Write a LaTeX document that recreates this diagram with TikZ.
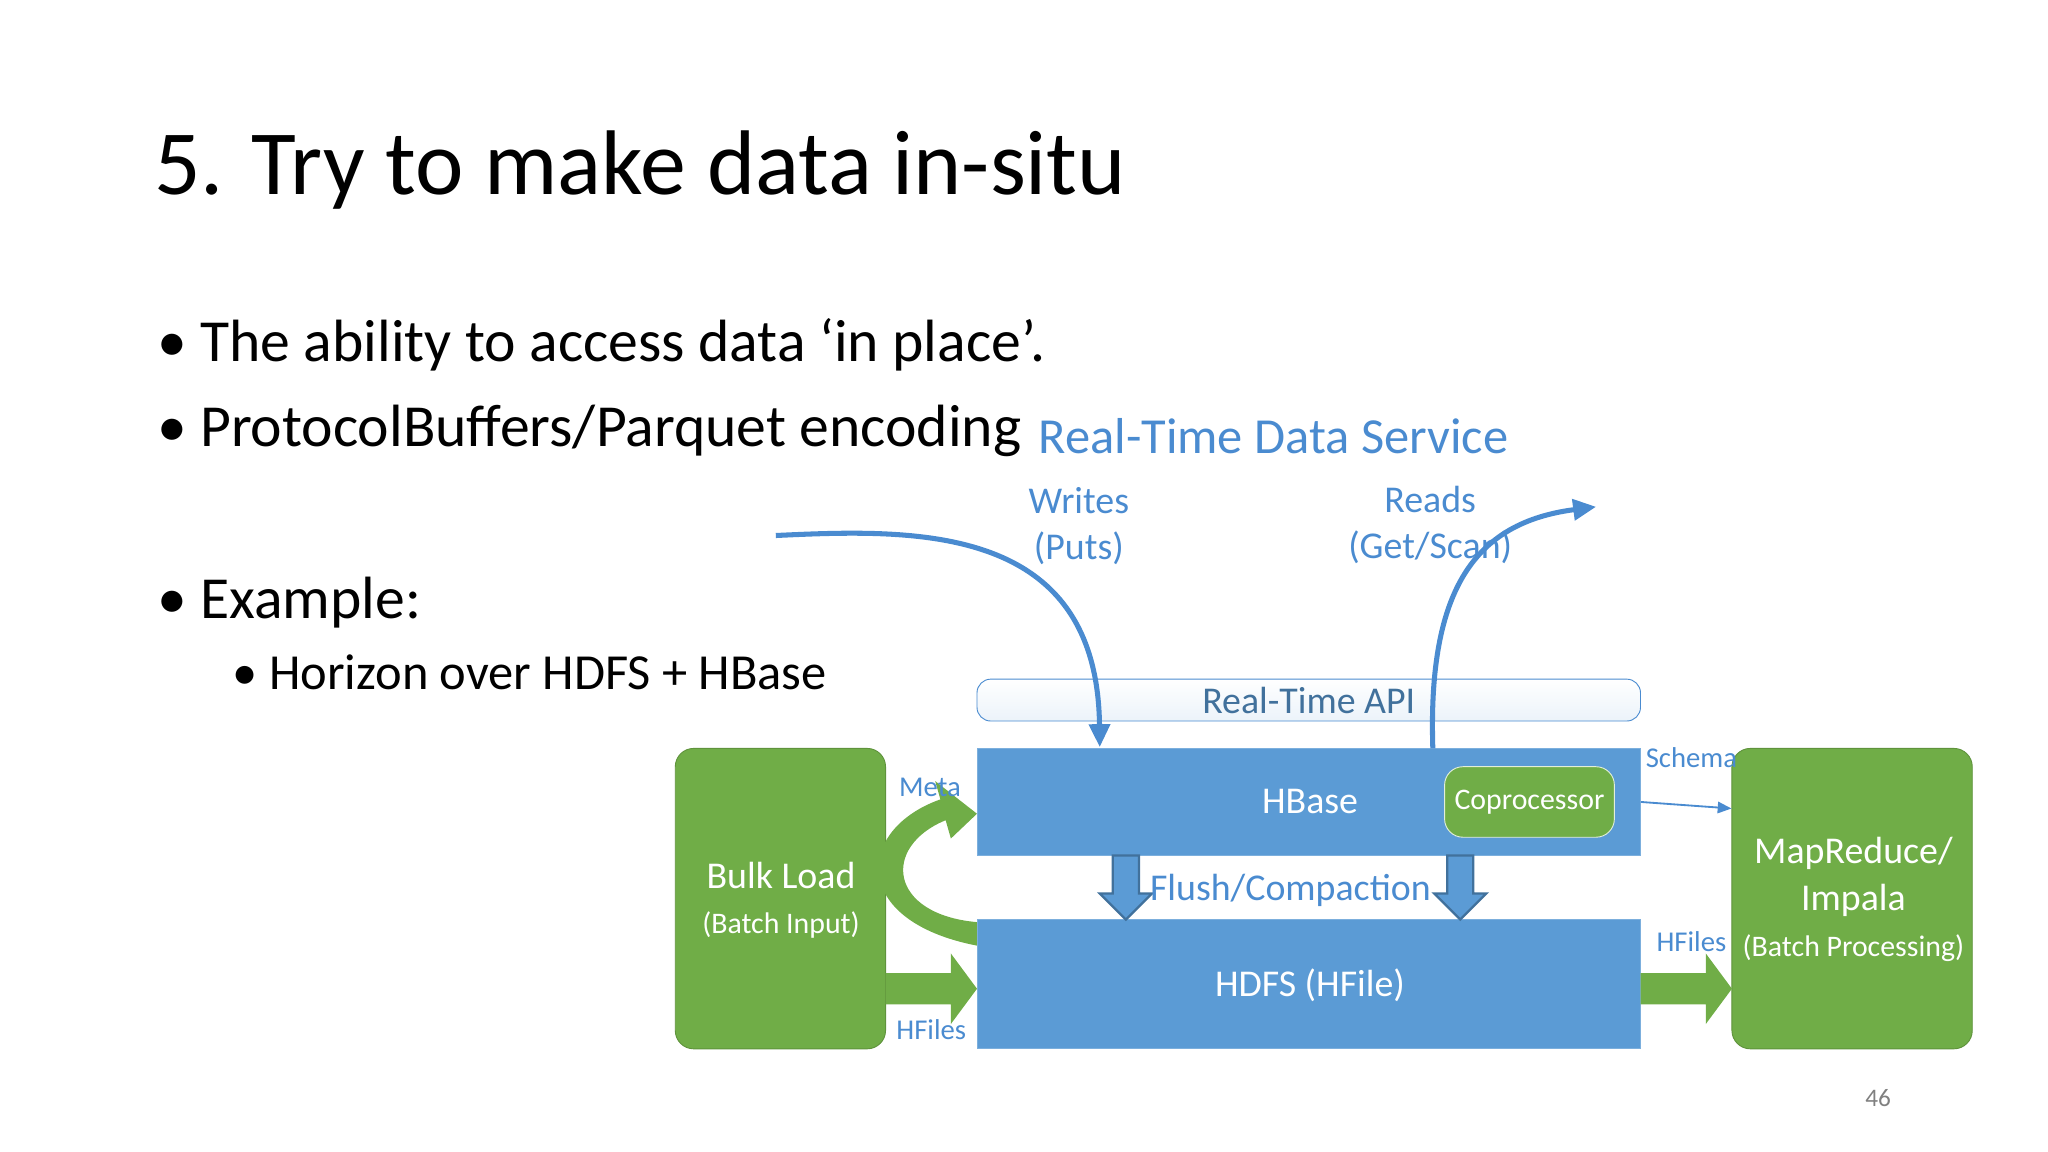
\documentclass[tikz,border=0pt]{standalone}
\usepackage{fontspec}
\usetikzlibrary{arrows.meta}
\setmainfont{Carlito}
\definecolor{hb}{HTML}{5B9BD5}
\definecolor{hbd}{HTML}{41719C}
\definecolor{gr}{HTML}{70AD47}
\definecolor{lb}{HTML}{4A8BD0}
\begin{document}
\begin{tikzpicture}[x=0.02cm,y=-0.02cm,
  bluebox/.style={fill=hb,draw=hb!80!white},
  greenbox/.style={fill=gr,draw=gr!85!black,rounded corners=8},
  wt/.style={text=white,font=\fontsize{16.5}{20}\selectfont},
  lbl/.style={text=lb,font=\fontsize{12.5}{15}\selectfont},
  big/.style={text=lb,font=\fontsize{16.5}{20}\selectfont,align=center},
  bul/.style={anchor=west,font=\fontsize{26}{30}\selectfont},
  flow/.style={draw=lb,line width=2.2pt,-{Triangle[length=10pt,width=9pt]}}]
\useasboundingbox (0,0) rectangle (1568,882);
% text
\node[anchor=west,font=\fontsize{40}{46}\selectfont] (title) at (112,130) {5. Try to make data in-situ};
\node[bul] (b1) at (114,264) {• The ability to access data ‘in place’.};
\node[bul] (b2) at (114,330) {• ProtocolBuffers/Parquet encoding};
\node[bul] (b3) at (114,461) {• Example:};
\node[bul,font=\fontsize{22}{26}\selectfont] (b4) at (172,515) {• Horizon over HDFS + HBase};
\node[text=lb,font=\fontsize{22}{26}\selectfont] (rtds) at (975,334) {Real-Time Data Service};
% boxes
\node[draw=lb,rounded corners=6,top color=white,bottom color=hb!12,minimum width=508*0.02cm,minimum height=31*0.02cm,text=hbd,font=\fontsize{16.5}{20}\selectfont] (api) at (1002,536) {Real-Time API};
\node[bluebox,minimum width=508*0.02cm,minimum height=82*0.02cm] (hbase) at (1002,614) {};
\node[wt] at (1003,614) {HBase};
\node[bluebox,minimum width=508*0.02cm,minimum height=99*0.02cm] (hdfs) at (1002,753.5) {};
\node[wt] at (1003,754) {HDFS (HFile)};
\node[greenbox,draw=white!80!gr,minimum width=130*0.02cm,minimum height=54*0.02cm,wt,font=\fontsize{13}{15}\selectfont] (cop) at (1171,614) {Coprocessor};
\node[greenbox,minimum width=161*0.02cm,minimum height=230*0.02cm] (bulk) at (597.5,688) {};
\node[wt] at (598,670) {Bulk Load};
\node[wt,font=\fontsize{13}{15}\selectfont] at (598,708) {(Batch Input)};
\node[greenbox,minimum width=184*0.02cm,minimum height=230*0.02cm] (mr) at (1418,688) {};
\node[wt] at (1419,653) {MapReduce/};
\node[wt] at (1419,689) {Impala};
\node[wt,font=\fontsize{13}{15}\selectfont] at (1419,726) {(Batch Processing)};
% flush arrows
\foreach \x in {862,1118}{
 \fill[hb,draw=hbd,line width=1pt] (\x-10,655)--(\x+10,655)--(\x+10,684)--(\x+20,684)--(\x,704)--(\x-20,684)--(\x-10,684)--cycle;}
\node[big] (fc) at (988,682) {Flush/Compaction};
% green arrows
\fill[gr] (678,745)--(728,745)--(728,730)--(748,757)--(728,784)--(728,769)--(678,769)--cycle;
\fill[gr] (1256,745)--(1306,745)--(1306,730)--(1326,757)--(1306,784)--(1306,769)--(1256,769)--cycle;
\fill[gr] (748,724) .. controls (650,705) and (655,635) .. (720,612) -- (716,598) -- (748,623) -- (728,642) -- (724,628) .. controls (675,648) and (680,700) .. (748,706) -- cycle;
\node[lbl] at (712,603) {Meta};
\node[lbl] at (713,788) {HFiles};
\node[lbl] at (1295,721) {HFiles};
\node[lbl] at (1295,580) {Schema};
\draw[draw=lb,line width=0.8pt,-{Triangle[length=6pt,width=5pt]}] (hbase.east) -- (mr.west |- 0,619);
% flows
\coordinate (ws) at (594,410);
\coordinate (we) at (842,572);
\draw[flow] (ws) .. controls (700,405) and (840,400) .. (we);
\node[big] (wl) at (826,403) {Writes\\(Puts)};
\coordinate (rs) at (1097,573);
\coordinate (re) at (1222,388);
\draw[flow] (rs) .. controls (1093,450) and (1130,400) .. (re);
\node[big] (rl) at (1095,402) {Reads\\(Get/Scan)};
\node[text=gray,font=\fontsize{11}{13}\selectfont] (pg) at (1438,841) {46};
\end{tikzpicture}
\end{document}
